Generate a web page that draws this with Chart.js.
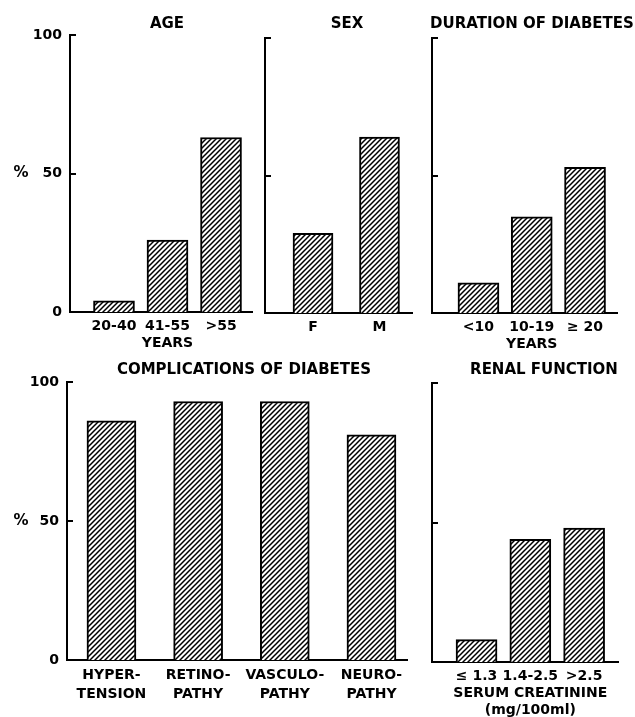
<!DOCTYPE html>
<html>
<head>
<meta charset="utf-8">
<script src="https://cdn.jsdelivr.net/npm/chart.js@4/dist/chart.umd.min.js"></script>
<style>
  html, body { margin: 0; padding: 0; background: #fff; }
  #wrap { position: relative; width: 635px; height: 717px; background: #fff; }
  #wrap canvas { position: absolute; left: 0; top: 0; }
</style>
</head>
<body>
<div id="wrap">
  <canvas id="age" width="635" height="717"></canvas>
  <canvas id="sex" width="635" height="717"></canvas>
  <canvas id="dur" width="635" height="717"></canvas>
  <canvas id="comp" width="635" height="717"></canvas>
  <canvas id="renal" width="635" height="717"></canvas>
</div>
<script>
// Percentages of patients in each group
const ageLabels = ['20-40', ['41-55', 'YEARS'], '>55'];
const ageValues = [4, 26, 63];

const sexLabels = ['F', 'M'];
const sexValues = [29, 64];

const durationLabels = ['<10', ['10-19', 'YEARS'], '\u2265 20'];
const durationValues = [11, 35, 53];

const complicationLabels = [['HYPER-', 'TENSION'], ['RETINO-', 'PATHY'], ['VASCULO-', 'PATHY'], ['NEURO-', 'PATHY']];
const complicationValues = [86, 93, 93, 81];

const renalLabels = ['\u2264 1.3', ['1.4-2.5', 'SERUM CREATININE', '(mg/100ml)'], '>2.5'];
const renalValues = [8, 44, 48];

// y-axis ticks (percent)
const yTickValues = [0, 50, 100];
const yTickLabels = ['0', '50', '100'];

const FONT = "'DejaVu Sans', 'Liberation Sans', sans-serif";
const W = 635, H = 717;

function hatchPattern(ctx) {
  const s = 5;
  const c = document.createElement('canvas');
  c.width = s; c.height = s;
  const g = c.getContext('2d');
  g.fillStyle = '#fff';
  g.fillRect(0, 0, s, s);
  g.strokeStyle = '#000';
  g.lineWidth = 1.5;
  g.beginPath();
  g.moveTo(-1, s + 1); g.lineTo(s + 1, -1);
  g.moveTo(-1, 1); g.lineTo(1, -1);
  g.moveTo(s - 1, s + 1); g.lineTo(s + 1, s - 1);
  g.stroke();
  return ctx.createPattern(c, 'repeat');
}

// Panel title, inward y ticks and the "%" axis mark
const panelDecor = {
  id: 'panelDecor',
  afterDraw(chart, args, opts) {
    const ctx = chart.ctx;
    const y = chart.scales.y;
    const area = chart.chartArea;
    ctx.save();
    ctx.strokeStyle = '#000';
    ctx.lineWidth = 2;
    [50, 100].forEach(v => {
      const py = Math.round(y.getPixelForValue(v));
      ctx.beginPath();
      ctx.moveTo(area.left, py);
      ctx.lineTo(area.left + 6, py);
      ctx.stroke();
    });
    ctx.fillStyle = '#000';
    ctx.textAlign = 'center';
    ctx.textBaseline = 'middle';
    ctx.font = 'bold 15px ' + FONT;
    ctx.fillText(opts.title, opts.titleX, opts.titleY);
    if (opts.percent) {
      ctx.font = 'bold 15px ' + FONT;
      ctx.fillText('%', 21, y.getPixelForValue(50));
    }
    ctx.restore();
  }
};

function makePanel(id, title, labels, values, L) {
  const canvas = document.getElementById(id);
  const ctx = canvas.getContext('2d');
  const data = values.map((v, i) => ({ x: i + 1, y: v }));
  return new Chart(ctx, {
    type: 'bar',
    data: {
      datasets: [{
        data: data,
        backgroundColor: hatchPattern(ctx),
        borderColor: '#000',
        borderWidth: 2,
        borderSkipped: 'bottom',
        barThickness: L.bar
      }]
    },
    plugins: [panelDecor],
    options: {
      responsive: false,
      animation: false,
      devicePixelRatio: 1,
      layout: { padding: { left: 0, top: L.top, right: W - L.right, bottom: 0 } },
      plugins: {
        legend: { display: false },
        tooltip: { enabled: false },
        panelDecor: { title: title, titleX: L.titleX, titleY: L.titleY, percent: L.yLabels }
      },
      scales: {
        x: {
          type: 'linear',
          offset: false,
          min: L.xmin,
          max: L.xmax,
          grid: { display: false, drawTicks: false },
          border: { display: true, color: '#000', width: 2 },
          afterBuildTicks: s => { s.ticks = labels.map((_, i) => ({ value: i + 1 })); },
          afterFit: s => { s.height = H - L.bottom; },
          ticks: {
            autoSkip: false,
            maxRotation: 0,
            padding: 6,
            color: '#000',
            font: { family: FONT, size: 14, weight: 'bold', lineHeight: L.lh },
            callback: v => labels[v - 1]
          }
        },
        y: {
          min: 0,
          max: 100,
          grid: { display: false, drawTicks: false },
          border: { display: true, color: '#000', width: 2 },
          afterBuildTicks: s => { s.ticks = yTickValues.map(v => ({ value: v })); },
          afterFit: s => { s.width = L.left; },
          ticks: {
            display: L.yLabels,
            padding: 8,
            color: '#000',
            font: { family: FONT, size: 14, weight: 'bold' },
            callback: v => yTickLabels[yTickValues.indexOf(v)]
          }
        }
      }
    }
  });
}

makePanel('age', 'AGE', ageLabels, ageValues,
  { left: 70, top: 35, right: 252, bottom: 312, xmin: 0.178, xmax: 3.579, bar: 41, lh: 1.22, titleX: 167, titleY: 24, yLabels: true });
makePanel('sex', 'SEX', sexLabels, sexValues,
  { left: 265, top: 38, right: 412, bottom: 313, xmin: 0.278, xmax: 2.489, bar: 40, lh: 1.22, titleX: 347, titleY: 24, yLabels: false });
makePanel('dur', 'DURATION OF DIABETES', durationLabels, durationValues,
  { left: 432, top: 38, right: 617, bottom: 313, xmin: 0.128, xmax: 3.6, bar: 41, lh: 1.22, titleX: 532, titleY: 24, yLabels: false });
makePanel('comp', 'COMPLICATIONS OF DIABETES', complicationLabels, complicationValues,
  { left: 67, top: 382, right: 407, bottom: 660, xmin: 0.487, xmax: 4.41, bar: 49, lh: 1.35, titleX: 244, titleY: 370, yLabels: true });
makePanel('renal', 'RENAL FUNCTION', renalLabels, renalValues,
  { left: 432, top: 383, right: 618, bottom: 662, xmin: 0.172, xmax: 3.63, bar: 41, lh: 1.22, titleX: 544, titleY: 370, yLabels: false });
</script>
</body>
</html>
